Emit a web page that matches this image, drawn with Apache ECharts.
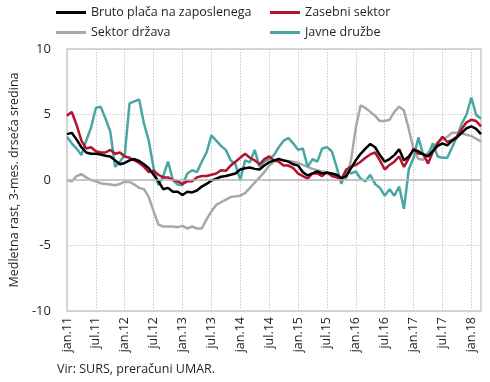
<!DOCTYPE html>
<html><head><meta charset="utf-8">
<script src="https://cdn.jsdelivr.net/npm/echarts@6/dist/echarts.min.js"></script>
<style>html,body{margin:0;padding:0;background:#fff}#c{width:490px;height:382px}</style>
</head><body><div id="c"></div>
<script>
const months = [
'jan.11','feb.11','mar.11','apr.11','maj.11','jun.11','jul.11','avg.11','sep.11','okt.11','nov.11','dec.11',
'jan.12','feb.12','mar.12','apr.12','maj.12','jun.12','jul.12','avg.12','sep.12','okt.12','nov.12','dec.12',
'jan.13','feb.13','mar.13','apr.13','maj.13','jun.13','jul.13','avg.13','sep.13','okt.13','nov.13','dec.13',
'jan.14','feb.14','mar.14','apr.14','maj.14','jun.14','jul.14','avg.14','sep.14','okt.14','nov.14','dec.14',
'jan.15','feb.15','mar.15','apr.15','maj.15','jun.15','jul.15','avg.15','sep.15','okt.15','nov.15','dec.15',
'jan.16','feb.16','mar.16','apr.16','maj.16','jun.16','jul.16','avg.16','sep.16','okt.16','nov.16','dec.16',
'jan.17','feb.17','mar.17','apr.17','maj.17','jun.17','jul.17','avg.17','sep.17','okt.17','nov.17','dec.17',
'jan.18','feb.18','mar.18'];

const bruto = [
3.5,3.6,3.1,2.5,2.1,2.0,2.0,1.95,1.85,1.8,1.5,1.2,
1.3,1.5,1.6,1.45,1.2,0.9,0.4,-0.1,-0.7,-0.6,-0.9,-0.9,
-1.15,-0.9,-0.95,-0.8,-0.5,-0.3,-0.05,0.1,0.25,0.3,0.4,0.5,
0.8,0.9,0.95,0.85,0.8,1.1,1.35,1.5,1.6,1.5,1.4,1.2,
1.1,0.6,0.35,0.5,0.65,0.5,0.55,0.5,0.4,0.15,0.3,0.9,
1.5,2.0,2.4,2.75,2.5,1.9,1.4,1.6,1.9,2.35,1.5,1.8,
2.3,2.2,1.95,1.8,2.2,2.6,2.8,2.65,3.0,3.25,3.6,3.95,
4.1,3.9,3.5];

const zasebni = [
4.9,5.2,4.2,3.0,2.4,2.5,2.2,2.1,2.1,2.3,2.0,2.1,
1.8,1.7,1.5,1.3,1.0,0.6,0.7,0.4,0.2,0.2,0.0,-0.1,
-0.3,-0.1,-0.1,0.2,0.3,0.3,0.4,0.5,0.75,0.7,1.1,1.4,
1.7,2.0,1.7,1.5,1.2,1.6,1.8,1.5,1.4,1.1,1.1,0.9,
0.5,0.3,0.1,0.5,0.5,0.3,0.6,0.3,0.2,0.05,0.8,1.0,
1.15,1.4,1.7,1.95,2.1,1.5,0.8,1.15,1.4,1.8,1.0,1.65,
2.4,2.0,2.0,1.25,2.15,2.8,3.3,2.9,3.05,3.3,3.9,4.4,
4.6,4.5,4.1];

const drzava = [
0.0,-0.1,0.3,0.45,0.2,0.0,-0.1,-0.25,-0.3,-0.35,-0.4,-0.3,
-0.15,-0.15,-0.35,-0.6,-0.7,-1.3,-2.4,-3.4,-3.55,-3.55,-3.55,-3.6,
-3.5,-3.7,-3.55,-3.7,-3.7,-3.0,-2.4,-1.9,-1.7,-1.5,-1.3,-1.25,
-1.2,-1.0,-0.6,-0.2,0.2,0.6,1.1,1.4,1.5,1.5,1.45,1.4,
1.3,1.15,1.0,0.85,0.75,0.65,0.6,0.45,0.3,0.1,0.1,1.5,
4.0,5.7,5.5,5.2,4.9,4.5,4.5,4.6,5.2,5.6,5.3,3.9,
2.3,1.6,1.55,2.1,2.5,2.9,3.1,3.3,3.6,3.6,3.55,3.45,
3.35,3.15,2.95];

const javne = [
3.3,2.8,2.4,1.9,3.0,4.0,5.5,5.6,4.7,3.7,1.0,1.4,
1.9,5.85,6.0,6.15,4.3,3.0,0.9,-0.4,0.3,1.4,0.0,-0.35,
-0.4,0.5,0.75,0.6,1.4,2.1,3.4,3.0,2.6,2.3,1.5,1.2,
0.0,1.5,1.35,2.3,1.0,1.4,1.6,1.9,2.5,3.0,3.2,2.8,
2.3,2.4,1.0,1.6,1.4,2.4,2.5,2.2,1.0,-0.3,0.7,0.5,
0.65,0.1,-0.1,0.4,-0.3,-0.6,-1.2,-0.7,-1.2,-0.5,-2.2,0.8,
1.7,3.25,1.9,1.9,2.8,1.8,1.7,1.7,2.5,3.3,4.3,5.0,
6.3,4.95,4.7];

const seriesNames = ['Bruto plača na zaposlenega','Zasebni sektor','Sektor država','Javne družbe'];
const yTicks = [-10,-5,0,5,10];

const FONT = 'Open Sans';
const TXT = '#231f20';
const colors = {bruto:'#000000', zasebni:'#b5122e', drzava:'#a8a8a8', javne:'#4aa6a3'};

function legend(name, left, top){
  return {data:[name], left:left, top:top, padding:0, icon:'rect', itemWidth:30, itemHeight:3,
    selectedMode:false, textStyle:{fontFamily:FONT, fontSize:12.5, color:TXT}};
}

const chart = echarts.init(document.getElementById('c'), null, {renderer:'canvas'});
chart.setOption({
  animation:false,
  backgroundColor:'#fff',
  legend:[
    legend(seriesNames[0], 56, 6),
    legend(seriesNames[1], 270, 6),
    legend(seriesNames[2], 56, 26),
    legend(seriesNames[3], 270, 26)
  ],
  title:{text:'Vir: SURS, preračuni UMAR.', left:57, top:363, padding:0,
    textStyle:{fontFamily:FONT, fontSize:12.5, fontWeight:'normal', color:TXT}},
  grid:{left:59, right:9, top:49, bottom:71, show:true, borderColor:'#cccccc', borderWidth:1.5, containLabel:false},
  xAxis:{type:'category', data:months, boundaryGap:false,
    axisLine:{show:false}, axisTick:{show:false},
    axisLabel:{interval:5, rotate:90, margin:6, fontFamily:FONT, fontSize:12.5, color:TXT},
    splitLine:{show:true, interval:5, lineStyle:{type:[1.5,1.5], color:'#c8c8c8', width:1}}},
  yAxis:{type:'value', min:-10, max:10, interval:5,
    name:'Medletna rast, 3-mes. drseča sredina', nameLocation:'middle', nameGap:42,
    nameTextStyle:{fontFamily:FONT, fontSize:12.5, color:TXT},
    axisLine:{show:false}, axisTick:{show:false},
    axisLabel:{margin:16, fontFamily:FONT, fontSize:13, color:TXT,
      formatter:function(v){return yTicks.indexOf(v)>=0 ? String(v) : '';}},
    splitLine:{show:true, lineStyle:{type:[1.5,1.5], color:'#c8c8c8', width:1}}},
  series:[
    {name:seriesNames[2], type:'line', data:drzava, symbol:'none', lineStyle:{width:2.5, color:colors.drzava}, itemStyle:{color:colors.drzava},
      markLine:{silent:true, symbol:['none','none'], label:{show:false}, lineStyle:{type:'solid', color:'#b8b8b8', width:1.5}, data:[{yAxis:0}]}},
    {name:seriesNames[3], type:'line', data:javne, symbol:'none', lineStyle:{width:2.5, color:colors.javne}, itemStyle:{color:colors.javne}},
    {name:seriesNames[1], type:'line', data:zasebni, symbol:'none', lineStyle:{width:2.5, color:colors.zasebni}, itemStyle:{color:colors.zasebni}},
    {name:seriesNames[0], type:'line', data:bruto, symbol:'none', lineStyle:{width:2.5, color:colors.bruto}, itemStyle:{color:colors.bruto}}
  ]
});
</script>
</body></html>
